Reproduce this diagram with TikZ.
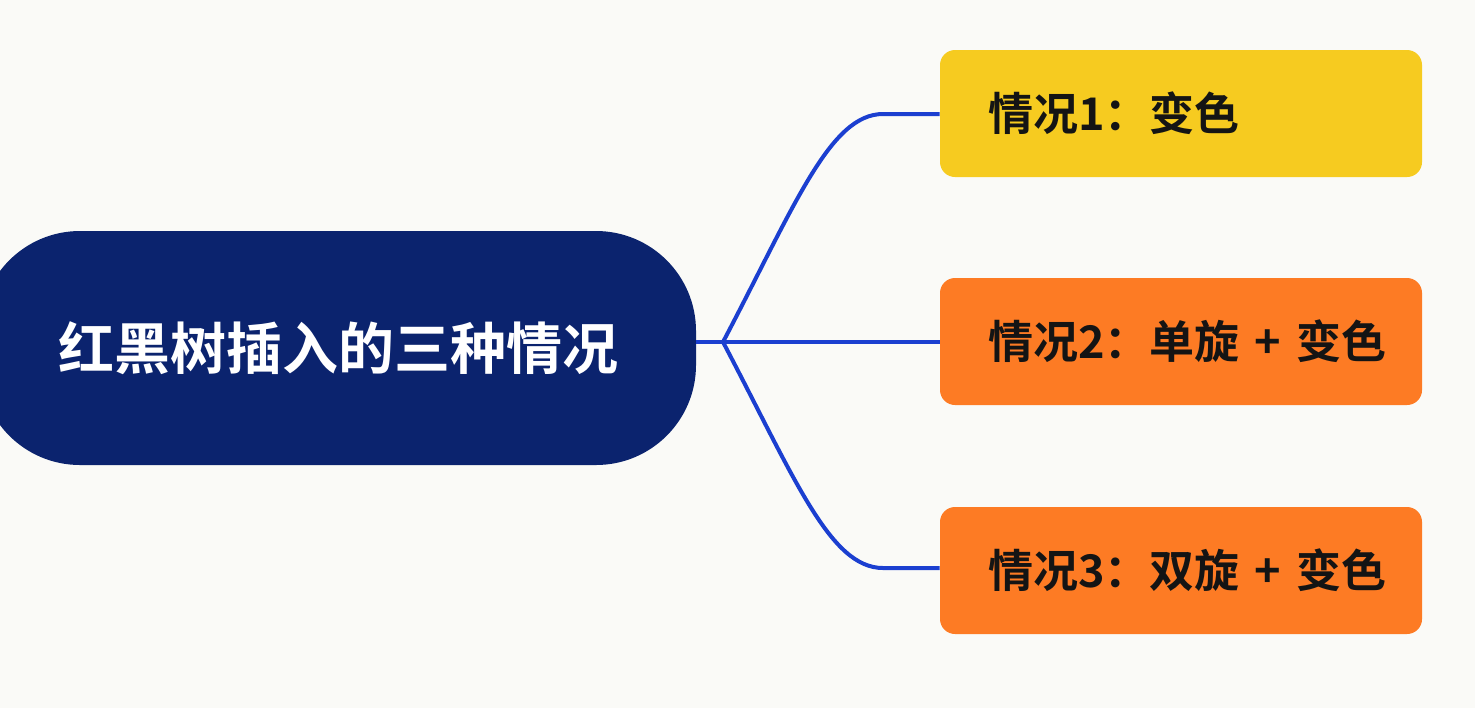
\documentclass[tikz,border=0pt]{standalone}
\usepackage{fontspec}
\newfontfamily\cjkb{Noto Sans CJK SC Bold}
\definecolor{bgc}{HTML}{FAFAF7}
\definecolor{navy}{HTML}{0B236E}
\definecolor{yel}{HTML}{F6CB20}
\definecolor{org}{HTML}{FD7B24}
\definecolor{lineblue}{HTML}{1B3FD0}
\begin{document}
\begin{tikzpicture}[x=0.5pt,y=-0.5pt,
  rootbox/.style={fill=navy, rounded corners=50pt, minimum width=358pt, minimum height=117pt,
    inner sep=0pt, text=white, font=\cjkb\fontsize{28}{32}\selectfont},
  casebox/.style={rounded corners=7.5pt, minimum height=63.5pt, text width=193pt,
    inner xsep=24pt, inner ysep=0pt, align=left, text=black!92, font=\cjkb\fontsize{22.5}{27}\selectfont},
  conn/.style={draw=lineblue, line width=2pt, line join=round}]
\useasboundingbox[fill=bgc] (0,0) rectangle (1475,708);
\node[rootbox] (root) at (338,348) {\raisebox{-1pt}{红黑树插入的三种情况}};
\node[casebox, fill=yel] (c1) at (1181,113.5) {\mbox{情况1：变色}};
\node[casebox, fill=org] (c2) at (1181,341.5) {\mbox{情况2：单旋 + 变色}};
\node[casebox, fill=org] (c3) at (1181,570.5) {\mbox{情况3：双旋 + 变色}};
\coordinate (j) at (723,342);
\draw[conn] (root.east |- j) -- (j);
\draw[conn] (j) .. controls (795,205) and (830,114) .. (883,114) -- (c1.west |- 883,114);
\draw[conn] (j) -- (c2.west |- j);
\draw[conn] (j) .. controls (795,479) and (830,568) .. (883,568) -- (c3.west |- 883,568);
\end{tikzpicture}
\end{document}
